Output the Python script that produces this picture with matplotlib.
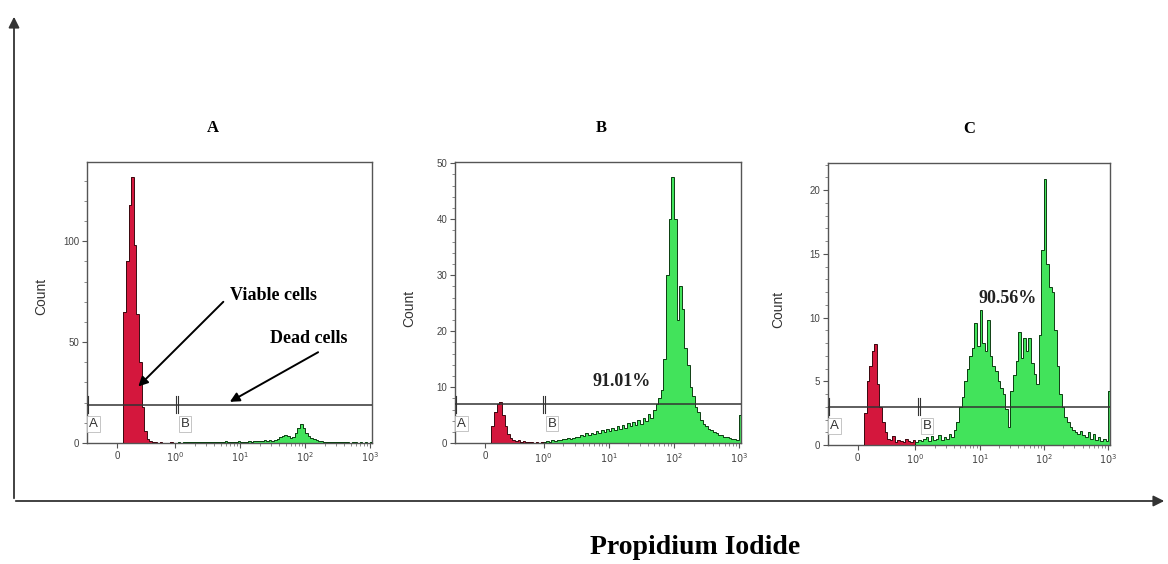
import numpy as np
import matplotlib.pyplot as plt
from matplotlib.patches import FancyArrowPatch

# channel grid (display units: "0" at 0, one decade per unit, 10^0 at 0.9)
BIN_START = 0.10
BIN_WIDTH = 0.04
TICK_POS = [0, 0.9, 1.9, 2.9, 3.9]
TICK_LABELS = ['0', r'$10^0$', r'$10^1$', r'$10^2$', r'$10^3$']

panel_names = ['A', 'B', 'C']

# counts below the A/B gate (first 20 bins)
red_a = [65, 90, 118, 132, 98, 64, 40, 18, 6, 2, 0.8, 0.4, 0.3, 0.2, 0.3, 0.2, 0.1, 0.2, 0.3, 0.2]
red_b = [3.0, 5.6, 7.0, 7.3, 5.0, 3.0, 1.6, 0.9, 0.6, 0.4, 0.5, 0.3, 0.4, 0.2, 0.3, 0.2, 0.1, 0.2, 0.1, 0.2]
red_c = [2.5, 5.0, 6.2, 7.4, 7.9, 4.8, 3.0, 1.8, 1.0, 0.5, 0.4, 0.7, 0.2, 0.4, 0.3, 0.2, 0.5, 0.3, 0.2, 0.4]

# counts in gate B (remaining 76 bins)
green_a = [0.2, 0.3, 0.2, 0.4, 0.3, 0.5, 0.3, 0.4, 0.6, 0.3,
           0.5, 0.4, 0.6, 0.3, 0.5, 0.7, 0.4, 0.6, 0.5, 0.8,
           0.5, 0.7, 0.4, 0.6, 0.8, 0.5, 0.7, 0.6, 0.9, 0.7,
           1.0, 0.8, 1.1, 0.9, 1.3, 1.0, 1.5, 1.2, 1.6, 2.2,
           2.8, 3.4, 4.1, 3.5, 2.6, 3.2, 5.0, 7.5, 9.6, 7.2,
           5.0, 3.6, 2.6, 1.9, 1.4, 1.1, 0.9, 0.7, 0.5, 0.6,
           0.4, 0.5, 0.3, 0.4, 0.3, 0.5, 0.3, 0.2, 0.4, 0.3,
           0.2, 0.3, 0.2, 0.3, 0.2, 0.6]
green_b = [0.3, 0.4, 0.3, 0.5, 0.4, 0.6, 0.5, 0.8, 0.7, 0.9,
           0.8, 1.0, 1.2, 1.1, 1.4, 1.3, 1.8, 1.5, 1.9, 1.7,
           2.2, 1.9, 2.4, 2.0, 2.6, 2.2, 2.8, 2.4, 3.0, 2.6,
           3.3, 2.8, 3.6, 3.0, 3.8, 3.2, 4.2, 3.5, 4.6, 4.0,
           5.2, 4.6, 6.0, 7.0, 8.0, 9.5, 15.0, 30.0, 40.0, 47.5,
           40.0, 22.0, 28.0, 24.0, 17.0, 14.0, 10.0, 8.5, 6.5, 5.5,
           4.2, 3.5, 3.0, 2.6, 2.4, 2.0, 1.8, 1.5, 1.4, 1.2,
           1.1, 0.9, 0.8, 0.7, 0.6, 5.0]
green_c = [0.2, 0.4, 0.3, 0.5, 0.6, 0.3, 0.7, 0.4, 0.5, 0.8,
           0.4, 0.6, 0.5, 0.9, 0.6, 1.2, 1.8, 3.0, 3.8, 5.0,
           6.0, 7.0, 7.6, 9.6, 7.8, 10.6, 8.0, 7.4, 9.8, 7.0,
           6.2, 5.8, 5.0, 4.5, 4.0, 2.8, 1.4, 4.2, 5.5, 6.6,
           8.9, 6.8, 8.4, 7.4, 8.4, 6.4, 5.6, 4.8, 8.6, 15.3,
           20.9, 14.2, 12.4, 12.0, 9.0, 6.2, 4.0, 3.0, 2.2, 1.8,
           1.4, 1.2, 1.0, 0.9, 1.1, 0.8, 0.6, 1.0, 0.5, 0.9,
           0.4, 0.6, 0.3, 0.5, 0.3, 4.2]

red_counts = [red_a, red_b, red_c]
green_counts = [green_a, green_b, green_c]
gate_levels = [19, 7, 3]
gate_split = [0.92, 0.90, 0.95]
y_max = [139.3, 50.2, 22.1]
y_major = [50, 10, 5]
y_minor = [10, 2, 1]
percent_labels = [None, '91.01%', '90.56%']
percent_pos = [None, (2.10, 11.0), (2.33, 11.5)]

RED = '#d4173d'
GREEN = '#42e35b'
SERIF = 'Liberation Serif'
SANS = 'Liberation Sans'

W, H = 1168, 564
fig = plt.figure(figsize=(W / 100, H / 100), dpi=100)

# axes boxes in pixels: left, right, top, bottom
boxes = [(87, 372, 162, 443), (455, 741, 162, 443.3), (828, 1110, 163.3, 445)]
ylabel_xy = [(-0.135, 0.52), (-0.135, 0.48), (-0.15, 0.48)]
title_x = [0.44, 0.51, 0.50]

edges = BIN_START + BIN_WIDTH * np.arange(len(red_a) + len(green_a) + 1)
minor_x = [0.9 + d + np.log10(m) for d in range(3) for m in range(2, 10)]

for k, (l, r, t, b) in enumerate(boxes):
    ax = fig.add_axes([l / W, 1 - b / H, (r - l) / W, (b - t) / H])
    n_red = len(red_counts[k])
    ax.stairs(red_counts[k], edges[:n_red + 1], fill=True, color=RED, zorder=2)
    ax.stairs(green_counts[k], edges[n_red:], fill=True, color=GREEN, zorder=2)
    ax.stairs(red_counts[k], edges[:n_red + 1], color='#3a0a10', lw=0.7, zorder=3)
    ax.stairs(green_counts[k], edges[n_red:], color='#0d3d12', lw=0.7, zorder=3)

    ax.set_xlim(-0.46, 3.93)
    ax.set_ylim(0, y_max[k])

    # gate marker: horizontal bar with A | B split
    g = gate_levels[k]
    ax.axhline(g, color='#333333', lw=1.1, zorder=4)
    for dx in (-0.015, 0.015):
        ax.plot([gate_split[k] + dx] * 2, [g - 0.03 * y_max[k], g + 0.03 * y_max[k]],
                color='#333333', lw=0.8, zorder=4)
    ax.plot([-0.45] * 2, [g - 0.03 * y_max[k], g + 0.03 * y_max[k]],
            color='#333333', lw=0.8, zorder=4, clip_on=False)
    box = dict(boxstyle='square,pad=0.15', fc='white', ec='#bbbbbb', lw=0.6)
    ax.annotate('A', (-0.36, g), xytext=(0, -14), textcoords='offset points',
                ha='center', va='center', fontsize=9.5, family=SANS, color='#333333',
                bbox=box, zorder=5)
    ax.annotate('B', (gate_split[k] + 0.13, g), xytext=(0, -14), textcoords='offset points',
                ha='center', va='center', fontsize=9.5, family=SANS, color='#333333',
                bbox=box, zorder=5)

    ax.set_xticks(TICK_POS)
    ax.set_xticklabels(TICK_LABELS)
    ax.set_xticks(minor_x, minor=True)
    ax.set_yticks(np.arange(0, y_max[k], y_major[k]))
    ax.set_yticks(np.arange(0, y_max[k], y_minor[k]), minor=True)
    ax.tick_params(which='major', length=3.5, width=0.8, color='#555555',
                   labelsize=7, labelcolor='#444444', pad=2)
    ax.tick_params(which='minor', length=2, width=0.6, color='#777777')
    for lab in ax.get_xticklabels() + ax.get_yticklabels():
        lab.set_family(SANS)
    for sp in ax.spines.values():
        sp.set_color('#555555')
        sp.set_linewidth(1.0)

    ax.set_ylabel('Count', family=SANS, fontsize=10, color='#333333')
    ax.yaxis.set_label_coords(*ylabel_xy[k])

    ax.text(title_x[k], 1.12, panel_names[k], transform=ax.transAxes,
            ha='center', va='center', fontsize=12, fontweight='bold', family=SERIF)

    if percent_labels[k]:
        ax.text(*percent_pos[k], percent_labels[k], ha='center', va='center',
                fontsize=13, fontweight='bold', family=SERIF, color='#222222', zorder=6)

    if k == 0:
        arrow = dict(arrowstyle='-|>', color='black', lw=1.4, mutation_scale=14,
                     shrinkA=0, shrinkB=0)
        ax.text(1.74, 73, 'Viable cells', ha='left', va='center', fontsize=13,
                fontweight='bold', family=SERIF, zorder=6)
        ax.annotate('', xy=(0.33, 28), xytext=(1.64, 70), arrowprops=arrow, zorder=6)
        ax.text(2.36, 52, 'Dead cells', ha='left', va='center', fontsize=13,
                fontweight='bold', family=SERIF, zorder=6)
        ax.annotate('', xy=(1.74, 20.4), xytext=(3.10, 45), arrowprops=arrow, zorder=6)

# outer frame arrows
frame = dict(transform=fig.transFigure, arrowstyle='-|>', mutation_scale=16,
             color='#333333', lw=1.3)
fig.add_artist(FancyArrowPatch((14 / W, 1 - 501 / H), (14 / W, 1 - 14 / H), **frame))
fig.add_artist(FancyArrowPatch((13 / W, 1 - 501 / H), (1167 / W, 1 - 501 / H), **frame))

fig.text(695 / W, 1 - 548 / H, 'Propidium Iodide', ha='center', va='center',
         fontsize=20, fontweight='bold', family=SERIF)

fig.savefig('out.png', dpi=100)
